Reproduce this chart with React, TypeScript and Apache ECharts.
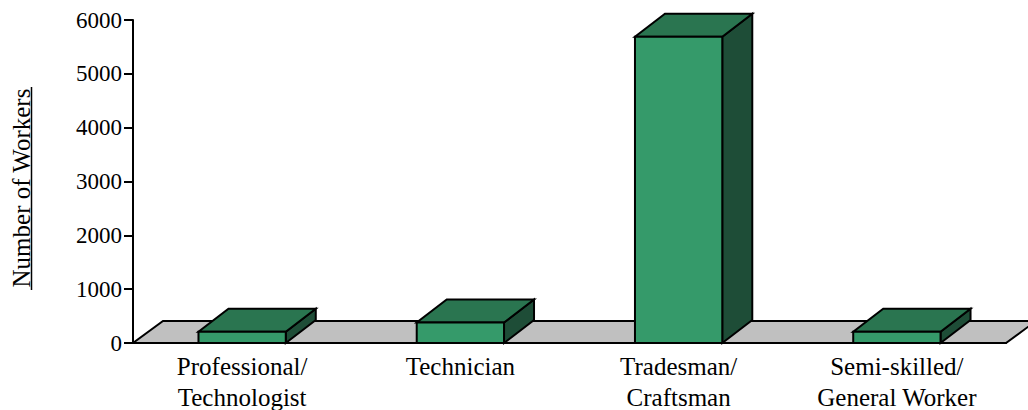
import React, { useEffect, useRef } from "react";
import * as echarts from "echarts";

const categories = [
  "Professional/\nTechnologist",
  "Technician",
  "Tradesman/\nCraftsman",
  "Semi-skilled/\nGeneral Worker",
];
const workers = [210, 380, 5690, 210];
const yTicks = { min: 0, max: 6000, interval: 1000 };
const yTitle = "Number of Workers";

const FRONT = "#359a6a";
const TOP = "#2a7550";
const SIDE = "#1e4d37";
const FLOOR = "#c0c0c0";
const BAR_DEPTH = [30, 23];
const FLOOR_DEPTH = [30, 22];
const BAR_RATIO = 0.4;
const FONT = "Liberation Serif";

export default function App() {
  const ref = useRef<HTMLDivElement>(null);
  useEffect(() => {
    document.body.style.margin = "0";
    const chart = echarts.init(ref.current!, null, { renderer: "svg" });
    const barData = workers.map((v, i) => [i, v]);
    chart.setOption({
      animation: false,
      backgroundColor: "#ffffff",
      grid: { left: 133, right: 22, top: 20, bottom: 67, outerBoundsMode: "none" },
      xAxis: {
        type: "category",
        data: categories,
        z: 5,
        axisLine: { lineStyle: { color: "#000", width: 2 } },
        axisTick: { inside: true, length: 6, lineStyle: { color: "#000", width: 2 } },
        axisLabel: {
          color: "#000",
          fontFamily: FONT,
          fontSize: 25,
          lineHeight: 31,
          margin: 8,
          interval: 0,
        },
        splitLine: { show: false },
      },
      yAxis: {
        type: "value",
        min: yTicks.min,
        max: yTicks.max,
        interval: yTicks.interval,
        z: 5,
        axisLine: { show: true, lineStyle: { color: "#000", width: 2 } },
        axisTick: { show: true, length: 9, lineStyle: { color: "#000", width: 2 } },
        axisLabel: {
          color: "#000",
          fontFamily: FONT,
          fontSize: 23,
          margin: 11,
          formatter: (v: number) => String(v),
        },
        splitLine: { show: false },
      },
      graphic: [
        {
          type: "text",
          x: 21,
          y: 188,
          rotation: Math.PI / 2,
          style: {
            text: yTitle,
            fontFamily: FONT,
            fontSize: 25,
            fill: "#000",
            align: "center",
            verticalAlign: "middle",
          },
        },
        {
          type: "line",
          shape: { x1: 31.5, y1: 87, x2: 31.5, y2: 290 },
          style: { stroke: "#000", lineWidth: 1.5 },
        },
      ],
      series: [
        {
          type: "custom",
          z: 1,
          data: [[0]],
          silent: true,
          renderItem: (params: any) => {
            const cs = params.coordSys;
            const yb = cs.y + cs.height;
            const [dx, dy] = FLOOR_DEPTH;
            return {
              type: "polygon",
              shape: {
                points: [
                  [cs.x, yb],
                  [cs.x + cs.width, yb],
                  [cs.x + cs.width + dx, yb - dy],
                  [cs.x + dx, yb - dy],
                ],
              },
              style: { fill: FLOOR, stroke: "#000", lineWidth: 2, lineJoin: "miter" },
            };
          },
        },
        {
          type: "custom",
          z: 3,
          data: barData,
          encode: { x: 0, y: 1 },
          renderItem: (params: any, api: any) => {
            const idx = api.value(0);
            const val = api.value(1);
            const base = api.coord([idx, 0]);
            const top = api.coord([idx, val]);
            const bw = api.size([1, 0])[0] * BAR_RATIO;
            const x0 = base[0] - bw / 2;
            const x1 = base[0] + bw / 2;
            const y0 = base[1];
            const y1 = top[1];
            const [dx, dy] = BAR_DEPTH;
            const st = { stroke: "#000", lineWidth: 2, lineJoin: "miter" };
            return {
              type: "group",
              children: [
                {
                  type: "polygon",
                  shape: { points: [[x1, y0], [x1, y1], [x1 + dx, y1 - dy], [x1 + dx, y0 - dy]] },
                  style: { ...st, fill: SIDE },
                },
                {
                  type: "polygon",
                  shape: { points: [[x0, y1], [x1, y1], [x1 + dx, y1 - dy], [x0 + dx, y1 - dy]] },
                  style: { ...st, fill: TOP },
                },
                {
                  type: "polygon",
                  shape: { points: [[x0, y0], [x1, y0], [x1, y1], [x0, y1]] },
                  style: { ...st, fill: FRONT },
                },
              ],
            };
          },
        },
      ],
    });
    return () => chart.dispose();
  }, []);
  return <div ref={ref} style={{ width: 1028, height: 410 }} />;
}
